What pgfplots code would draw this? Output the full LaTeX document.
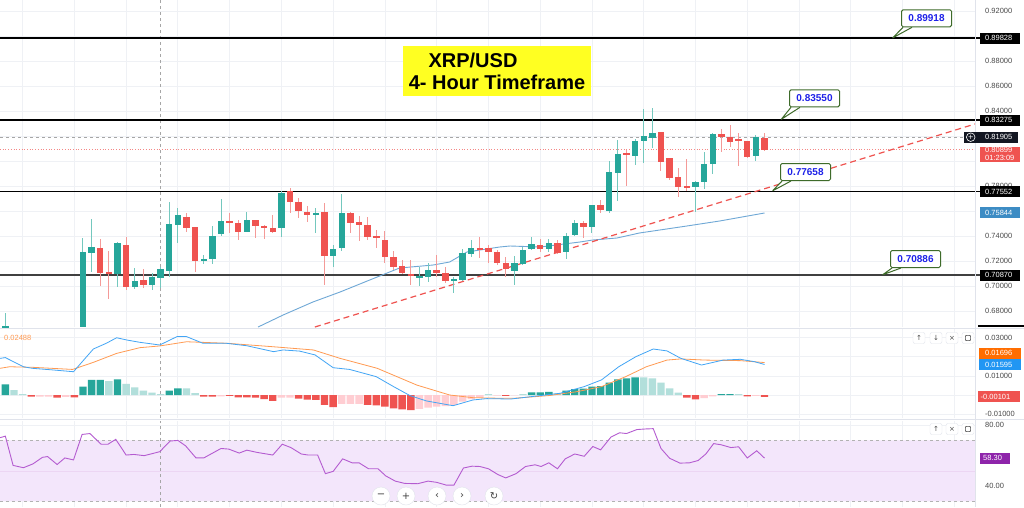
\documentclass[border=0pt]{standalone}
\usepackage{pgfplots}
\pgfplotsset{compat=1.18}
\usepackage{pgfplotstable}
\usepackage{fontspec}
\setmainfont{Liberation Sans}
\newfontfamily\djv{DejaVu Sans}

\definecolor{cgreen}{HTML}{26A69A}
\definecolor{cred}{HTML}{EF5350}
\definecolor{wgreen}{HTML}{74C8BE}
\definecolor{wred}{HTML}{F49A98}
\definecolor{hlg}{HTML}{B2DFDB}
\definecolor{hpk}{HTML}{FFCDD2}
\definecolor{macdc}{HTML}{42A5F5}
\definecolor{sigc}{HTML}{FF9A52}
\definecolor{mac}{HTML}{6FA8D6}
\definecolor{rsic}{HTML}{B45BD0}
\definecolor{rsifill}{HTML}{F3E6FB}
\definecolor{gridc}{HTML}{EFF1F5}
\definecolor{sepc}{HTML}{E0E3EB}
\definecolor{tickc}{HTML}{4A4A4A}
\definecolor{calloutg}{HTML}{3E6B2A}
\definecolor{calloutb}{HTML}{1E22E8}
\definecolor{boxdark}{HTML}{131722}
\definecolor{boxblue}{HTML}{3D8CC4}
\definecolor{boxorange}{HTML}{FF6D00}
\definecolor{boxmacd}{HTML}{2196F3}
\definecolor{boxrsi}{HTML}{8E24AA}
\definecolor{titley}{HTML}{FFFF22}

% candles: index, open, high, low, close
\pgfplotstableread{
i o h l c
-8 0.6672 0.6784 0.6672 0.6674
1 0.6672 0.7384 0.6672 0.7272
2 0.7264 0.7536 0.7112 0.7312
5 0.7096 0.7352 0.6992 0.7344
7 0.6992 0.7144 0.6976 0.7040
9 0.7008 0.7104 0.6968 0.7072
10 0.7064 0.7152 0.6984 0.7136
11 0.7120 0.7672 0.7072 0.7496
12 0.7488 0.7624 0.7344 0.7568
15 0.7200 0.7248 0.7176 0.7216
16 0.7216 0.7480 0.7176 0.7400
17 0.7416 0.7696 0.7400 0.7520
20 0.7432 0.7592 0.7432 0.7528
24 0.7464 0.7760 0.7392 0.7744
28 0.7568 0.7624 0.7424 0.7584
30 0.7240 0.7328 0.7152 0.7296
31 0.7304 0.7736 0.7280 0.7584
40 0.7072 0.7152 0.7000 0.7080
41 0.7072 0.7184 0.7032 0.7128
44 0.7040 0.7072 0.6944 0.7056
45 0.7048 0.7296 0.7040 0.7264
46 0.7256 0.7368 0.7232 0.7304
51 0.7120 0.7240 0.7008 0.7184
52 0.7176 0.7312 0.7168 0.7288
53 0.7296 0.7392 0.7288 0.7336
55 0.7296 0.7376 0.7272 0.7344
57 0.7272 0.7424 0.7216 0.7400
58 0.7408 0.7528 0.7400 0.7504
60 0.7472 0.7648 0.7424 0.7648
62 0.7600 0.8000 0.7584 0.7912
63 0.7904 0.8168 0.7680 0.8056
65 0.8040 0.8176 0.7968 0.8160
66 0.8160 0.8416 0.7984 0.8200
67 0.8184 0.8424 0.8104 0.8224
72 0.7792 0.7840 0.7592 0.7832
73 0.7832 0.8072 0.7776 0.7976
74 0.7976 0.8224 0.7896 0.8216
79 0.8040 0.8208 0.8000 0.8192
}\greenc

\pgfplotstableread{
i o h l c
3 0.7304 0.7376 0.7000 0.7104
4 0.7112 0.7280 0.6896 0.7104
6 0.7328 0.7392 0.6968 0.6992
8 0.7048 0.7136 0.6984 0.7008
13 0.7552 0.7584 0.7432 0.7464
14 0.7472 0.7472 0.7112 0.7200
18 0.7520 0.7584 0.7424 0.7504
19 0.7504 0.7528 0.7368 0.7432
21 0.7528 0.7528 0.7384 0.7480
22 0.7480 0.7488 0.7376 0.7464
23 0.7464 0.7568 0.7424 0.7432
25 0.7760 0.7784 0.7584 0.7672
26 0.7672 0.7704 0.7544 0.7600
27 0.7592 0.7640 0.7512 0.7568
29 0.7592 0.7664 0.7008 0.7240
32 0.7584 0.7592 0.7424 0.7504
33 0.7512 0.7560 0.7360 0.7488
34 0.7488 0.7552 0.7368 0.7392
35 0.7400 0.7448 0.7304 0.7384
36 0.7368 0.7440 0.7184 0.7232
37 0.7232 0.7280 0.7128 0.7152
38 0.7160 0.7208 0.7096 0.7104
39 0.7096 0.7208 0.7008 0.7080
42 0.7128 0.7248 0.7072 0.7104
43 0.7104 0.7152 0.7024 0.7040
47 0.7304 0.7392 0.7224 0.7296
48 0.7304 0.7328 0.7184 0.7272
49 0.7272 0.7288 0.7168 0.7184
50 0.7184 0.7232 0.7072 0.7136
54 0.7328 0.7376 0.7272 0.7296
56 0.7344 0.7368 0.7256 0.7264
59 0.7504 0.7520 0.7384 0.7472
61 0.7648 0.7688 0.7584 0.7608
64 0.8064 0.8088 0.7800 0.8048
68 0.8232 0.8232 0.7920 0.7992
69 0.8024 0.8024 0.7848 0.7864
70 0.7872 0.7944 0.7712 0.7792
71 0.7800 0.8016 0.7760 0.7792
75 0.8216 0.8256 0.8072 0.8192
76 0.8192 0.8288 0.8112 0.8152
77 0.8176 0.8224 0.7960 0.8168
78 0.8160 0.8160 0.8024 0.8032
80 0.8184 0.8224 0.8080 0.8090
}\redc

\pgfplotsset{
  panel/.style={
    scale only axis, width=975pt, xmin=-8.62, xmax=104.4,
    anchor=south west, clip=false,
    axis line style={draw=none}, major tick length=0pt,
    xtick={-6,0,...,102}, xticklabels={},
    scaled y ticks=false,
    xmajorgrids, ymajorgrids, grid style={draw=gridc, line width=0.8pt},
    yticklabel pos=right,
    yticklabel style={anchor=west, inner sep=0pt, xshift=10pt,
      font=\fontsize{7.5}{9}\selectfont, text=tickc},
  },
}
\tikzset{
  lbl/.style={anchor=west, minimum height=11pt, inner xsep=0pt,
    inner ysep=0pt, text=white, font=\fontsize{7.5}{9}\selectfont, align=left,
    minimum width=40pt, text width=40pt},
  callout/.style={draw=calloutg, line width=1pt, fill=white, rounded corners=1.5pt,
    text=calloutb, font=\bfseries\fontsize{10}{11}\selectfont, inner sep=0pt,
    minimum height=17pt, minimum width=50pt, anchor=south west},
  wedge/.style={fill=white, draw=calloutg, line width=1pt, line join=round},
  btn/.style={draw=sepc, fill=white, rounded corners=2pt, minimum width=12pt,
    minimum height=11pt, inner sep=0pt, font=\djv\fontsize{7}{8}\selectfont, text=tickc},
  nav/.style={circle, draw=sepc, fill=white, minimum size=18pt, inner sep=0pt,
    font=\djv\fontsize{10}{10}\selectfont, text=black!75},
}
\usetikzlibrary{calc}
% small "maximize" glyph drawn as a shape (no font has it)
\newcommand{\maxicon}[1]{%
  \draw[tickc, line width=0.6pt, rounded corners=0.8pt] ($(#1)+(-2.6,-2.6)$) rectangle ($(#1)+(2.6,2.6)$);}

\begin{document}
\begin{tikzpicture}[x=1pt,y=1pt]
\useasboundingbox (0,0) rectangle (1024,507);
\fill[white] (0,0) rectangle (1024,507);

% ================= PRICE PANEL =================
\begin{axis}[panel, at={(0pt,180pt)}, height=327pt, ymin=0.6672, ymax=0.9288,
  ytick={0.68,0.70,0.72,0.74,0.76,0.78,0.80,0.82,0.84,0.86,0.88,0.90,0.92},
  yticklabels={0.68000,0.70000,0.72000,0.74000,,0.78000,,,0.84000,0.86000,0.88000,,0.92000}]
  \addplot [gray!70, dashed, line width=0.6pt] coordinates {(10,0.6672) (10,0.9288)};
  \addplot [gray!70, dashed, line width=0.6pt] coordinates {(-8.62,0.81905) (104.4,0.81905)};
  \addplot [cred!70, dotted, line width=0.7pt] coordinates {(-8.62,0.80899) (104.4,0.80899)};
  \addplot [black, line width=1.3pt] coordinates {(-8.62,0.89828) (105.3,0.89828)};
  \addplot [black, line width=1.3pt] coordinates {(-8.62,0.83275) (105.3,0.83275)};
  \addplot [black, line width=1.3pt] coordinates {(-8.62,0.77552) (105.3,0.77552)};
  \addplot [black!75, line width=1.5pt] coordinates {(-8.62,0.70870) (105.3,0.70870)};
  \addplot [mac, line width=0.9pt] coordinates {
    (21.3,0.6672) (24.2,0.6768) (27.65,0.6872) (30.8,0.6952) (35.1,0.7072)
    (37.7,0.7144) (41.6,0.7168) (43.5,0.7192) (45.5,0.7272) (49.3,0.7312)
    (50.5,0.7320) (54.0,0.7312) (58.6,0.7352) (60.1,0.7368) (62.9,0.7384)
    (65.5,0.7424) (71.0,0.7480) (74.8,0.7520) (80,0.7584)};
  \addplot [cred, dashed, dash pattern=on 6pt off 4pt, line width=1.2pt]
    coordinates {(27.88,0.6672) (104.4,0.8296)};
  \addplot [mark=none, draw=none, error bars/.cd, y dir=both, y explicit, error mark=none,
    error bar style={draw=wgreen, line width=1pt}]
    table [x=i, y expr={(\thisrow{h}+\thisrow{l})/2}, y error expr={(\thisrow{h}-\thisrow{l})/2}] {\greenc};
  \addplot [mark=none, draw=none, error bars/.cd, y dir=both, y explicit, error mark=none,
    error bar style={draw=wred, line width=1pt}]
    table [x=i, y expr={(\thisrow{h}+\thisrow{l})/2}, y error expr={(\thisrow{h}-\thisrow{l})/2}] {\redc};
  \addplot [mark=none, draw=none, error bars/.cd, y dir=both, y explicit, error mark=none,
    error bar style={draw=cgreen, line width=6.4pt}]
    table [x=i, y expr={(\thisrow{o}+\thisrow{c})/2}, y error expr={max(abs(\thisrow{c}-\thisrow{o})/2,0.0005)}] {\greenc};
  \addplot [mark=none, draw=none, error bars/.cd, y dir=both, y explicit, error mark=none,
    error bar style={draw=cred, line width=6.4pt}]
    table [x=i, y expr={(\thisrow{o}+\thisrow{c})/2}, y error expr={max(abs(\thisrow{c}-\thisrow{o})/2,0.0005)}] {\redc};
  \coordinate (pA) at (axis cs:104.4,0.89828);
  \coordinate (pB) at (axis cs:104.4,0.83275);
  \coordinate (pC) at (axis cs:104.4,0.81905);
  \coordinate (pD) at (axis cs:104.4,0.80899);
  \coordinate (pE) at (axis cs:104.4,0.77552);
  \coordinate (pF) at (axis cs:104.4,0.75844);
  \coordinate (pG) at (axis cs:104.4,0.70870);
  \coordinate (tA) at (axis cs:94.86,0.8985);
  \coordinate (tB) at (axis cs:81.95,0.8334);
  \coordinate (tC) at (axis cs:80.95,0.7762);
  \coordinate (tD) at (axis cs:93.7,0.7090);
\end{axis}

% ================= MACD PANEL =================
\begin{axis}[panel, at={(0pt,89pt)}, height=89pt, ymin=-0.01205, ymax=0.03458,
  ytick={-0.01,0,0.01,0.02,0.03},
  yticklabels={-0.01000,,0.01000,,0.03000}]
  \addplot [gray!70, dashed, line width=0.6pt] coordinates {(10,-0.01205) (10,0.03458)};
  \addplot [ybar, bar width=7.4pt, bar shift=0pt, fill=cgreen, draw=none] coordinates {
    (-8,0.0056) (1,0.0044) (2,0.0079) (3,0.0079) (5,0.0082) (11,0.0023) (12,0.0035)
    (53,0.0014) (54,0.0014) (55,0.0017) (57,0.0023) (58,0.0031) (59,0.0033) (60,0.0044)
    (61,0.0046) (62,0.0065) (63,0.0082) (64,0.0087) (65,0.0093) (75,0.0005) (76,0.0005)};
  \addplot [ybar, bar width=7.4pt, bar shift=0pt, fill=hlg, draw=none] coordinates {
    (-7,0.0026) (-6,0.0005) (4,0.0073) (6,0.0058) (7,0.0040) (8,0.0023) (9,0.0012)
    (10,0.0005) (13,0.0035) (14,0.0010) (48,0.0005) (52,0.0005) (56,0.0009)
    (66,0.0092) (67,0.0087) (68,0.0065) (69,0.0035) (70,0.0012) (77,0.0004)};
  \addplot [ybar, bar width=7.4pt, bar shift=0pt, fill=cred, draw=none] coordinates {
    (-5,-0.0009) (-2,-0.0014) (0,-0.0012) (15,-0.0009) (16,-0.0009) (18,-0.0005)
    (19,-0.0012) (20,-0.0012) (21,-0.0014) (22,-0.0021) (23,-0.0031) (26,-0.0019)
    (27,-0.0024) (28,-0.0026) (29,-0.0052) (30,-0.0063) (34,-0.0052) (35,-0.0054)
    (36,-0.0061) (37,-0.0070) (38,-0.0075) (39,-0.0079) (50,-0.0005) (71,-0.0014)
    (72,-0.0023) (78,-0.0007) (80,-0.0010)};
  \addplot [ybar, bar width=7.4pt, bar shift=0pt, fill=hpk, draw=none] coordinates {
    (-4,-0.0009) (-3,-0.0009) (-1,-0.0010) (17,-0.0007) (24,-0.0014) (25,-0.0014)
    (31,-0.0047) (32,-0.0047) (33,-0.0047) (40,-0.0073) (41,-0.0066) (42,-0.0061)
    (43,-0.0058) (44,-0.0052) (45,-0.0035) (46,-0.0021) (47,-0.0012) (49,-0.0003)
    (51,-0.0002) (73,-0.0017) (74,-0.0007) (79,-0.0005)};
  \addplot [sigc, line width=0.8pt] coordinates {
    (-8.6,0.0140) (-7.5,0.0148) (-4.8,0.0145) (-0.2,0.0134) (2.2,0.0171) (4.9,0.0218)
    (7.6,0.0248) (9.9,0.0257) (13.0,0.0279) (17.7,0.0271) (23.0,0.0253) (27.7,0.0236)
    (30.8,0.0192) (35.1,0.0140) (39.7,0.0052) (43.5,0.0000) (46.2,-0.0014) (49.3,-0.0017)
    (51.0,-0.0017) (55.0,-0.0003) (58.2,0.0017) (61.1,0.0044) (63.9,0.0096) (66.3,0.0148)
    (68.7,0.0183) (70.3,0.0189) (73.1,0.0183) (77.2,0.0180) (80,0.0170)};
  \addplot [macdc, line width=0.8pt] coordinates {
    (-8.6,0.0192) (-8.0,0.0196) (-5.9,0.0148) (-4.9,0.0140) (-2.4,0.0131) (-0.1,0.0122)
    (2.2,0.0241) (3.7,0.0271) (4.9,0.0300) (6.1,0.0288) (7.6,0.0276) (9.9,0.0262)
    (11.9,0.0306) (13.0,0.0306) (14.9,0.0271) (17.6,0.0271) (20.0,0.0258) (23.1,0.0227)
    (24.2,0.0236) (26.1,0.0230) (27.9,0.0210) (30.0,0.0143) (31.9,0.0134) (35.0,0.0096)
    (37.0,0.0044) (38.9,-0.0003) (40.8,-0.0031) (43.9,-0.0056) (46.2,-0.0026) (47.8,-0.0019)
    (50.6,-0.0021) (56.3,0.0009) (59.1,0.0044) (61.1,0.0079) (63.1,0.0148) (65.1,0.0201)
    (67.1,0.0241) (68.7,0.0231) (70.3,0.0192) (72.7,0.0157) (75.2,0.0183) (77.2,0.0187)
    (78.8,0.0175) (80,0.0160)};
  \coordinate (mA) at (axis cs:104.4,0.0218);
  \coordinate (mB) at (axis cs:104.4,0.01595);
  \coordinate (mC) at (axis cs:104.4,-0.00101);
\end{axis}

% ================= RSI PANEL =================
\begin{axis}[panel, at={(0pt,0pt)}, height=86pt, ymin=26.23, ymax=82.62,
  ytick={40,60,80}, yticklabels={40.00,,80.00}]
  \addplot [draw=none, fill=rsifill] coordinates {(-8.62,30) (104.4,30) (104.4,70) (-8.62,70) (-8.62,30)};
  \addplot [gray!60, dashed, line width=0.6pt] coordinates {(-8.62,70) (104.4,70)};
  \addplot [gray!60, dashed, line width=0.6pt] coordinates {(-8.62,30) (104.4,30)};
  \addplot [rsic!25, line width=0.5pt] coordinates {(-8.62,50) (104.4,50)};
  \addplot [gray!70, dashed, line width=0.6pt] coordinates {(10,26.23) (10,82.62)};
  \addplot [rsic, line width=0.9pt] coordinates {
    (-8.6,71.7) (-8.0,72.7) (-7.1,53.5) (-5.9,52.0) (-4.8,54.5) (-3.7,58.8) (-3.1,59.3)
    (-2.0,54.1) (-1.1,58.4) (-0.1,57.1) (0.9,73.8) (1.8,74.4) (3.1,67.4) (3.9,67.4)
    (4.8,70.6) (6.0,60.3) (6.9,60.7) (8.1,59.9) (9.9,62.5) (11.1,69.5) (12.0,69.9)
    (12.9,66.3) (14.1,58.4) (15.0,58.4) (17.0,64.6) (17.9,64.2) (19.1,61.6) (20.0,63.5)
    (21.2,62.0) (23.0,60.3) (24.1,67.4) (25.1,65.2) (26.3,61.0) (27.1,60.3) (28.2,60.3)
    (29.1,48.1) (30.0,49.6) (31.1,57.8) (32.2,55.2) (33.0,55.2) (34.1,51.3) (35.2,51.3)
    (36.1,46.6) (37.2,43.2) (38.3,41.7) (39.8,41.5) (41.0,43.2) (42.0,42.4) (43.1,40.6)
    (44.0,40.6) (45.1,51.8) (46.1,53.0) (47.0,52.8) (48.0,51.3) (49.1,47.5) (50.0,45.3)
    (51.2,48.1) (52.3,52.8) (53.4,53.9) (54.1,52.8) (55.0,55.2) (56.0,51.3) (56.9,57.8)
    (58.0,61.0) (59.1,59.5) (60.1,65.9) (61.0,63.7) (62.2,72.1) (63.2,74.9) (64.0,74.4)
    (65.2,77.0) (66.2,77.4) (67.1,77.6) (68.0,64.6) (69.0,58.2) (70.2,55.0) (71.3,55.2)
    (72.3,56.7) (73.2,61.0) (74.1,67.8) (75.0,67.0) (76.1,65.2) (77.0,65.7) (78.0,58.4)
    (79.1,63.1) (80.0,58.3)};
  \coordinate (rA) at (axis cs:104.4,58.3);
\end{axis}

% ================= separators =================
\draw[sepc, line width=1pt] (0,178.7) -- (1024,178.7);
\draw[sepc, line width=1pt] (0,87.5) -- (1024,87.5);
\draw[sepc, line width=0.8pt] (975.5,0) -- (975.5,507);
\fill[black] (978,180) rectangle (1024,182);

% ================= right-scale boxes =================
\foreach \c/\t in {pA/0.89828, pB/0.83275, pE/0.77552, pG/0.70870}{
  \node[lbl, fill=black, xshift=5pt] at (\c) {\hspace*{5pt}\t};
}
\node[lbl, fill=boxdark, minimum width=54pt, text width=54pt, xshift=-11pt] at (pC) {\hspace*{21pt}0.81905};
\draw[white, line width=0.6pt] ($(pC)+(-4.3,0)$) circle (4.3pt);
\node[font=\djv\fontsize{7}{7}\selectfont, text=white, inner sep=0pt] at ($(pC)+(-4.3,0)$) {+};
\node[lbl, fill=cred, xshift=5pt, yshift=-4.5pt, inner ysep=1pt] at (pD) {\hspace*{5pt}0.80899\\[-1pt]\hspace*{5pt}01:23:09};
\node[lbl, fill=boxblue, xshift=5pt] at (pF) {\hspace*{5pt}0.75844};
\node[lbl, fill=boxorange, minimum width=42pt, text width=42pt, xshift=4pt] at (mA) {\hspace*{6pt}0.01696};
\node[lbl, fill=boxmacd, minimum width=42pt, text width=42pt, xshift=4pt] at (mB) {\hspace*{6pt}0.01595};
\node[lbl, fill=cred, minimum width=42pt, text width=42pt, xshift=3pt] at (mC) {\hspace*{2.5pt}-0.00101};
\node[lbl, fill=boxrsi, minimum width=30pt, text width=30pt, xshift=5pt] at (rA) {\hspace*{3pt}58.30};

\node[anchor=west, inner sep=0pt, text=sigc, font=\fontsize{7.5}{9}\selectfont] at (4,169) {0.02488};

% ================= callouts =================
\filldraw[wedge] (903,479.7) -- (tA) -- (912,479.7);
\node[callout] at (901,479.7) {0.89918};
\filldraw[wedge] (791,399.7) -- (tB) -- (800,399.7);
\node[callout] at (789,399.7) {0.83550};
\filldraw[wedge] (782,326) -- (tC) -- (791,326);
\node[callout] at (780,326) {0.77658};
\filldraw[wedge] (892,239) -- (tD) -- (901,239);
\node[callout] at (890,239) {0.70886};

% ================= title =================
\node[fill=titley, minimum width=188pt, minimum height=50pt, inner sep=0pt, align=center,
  font=\bfseries\fontsize{20}{22}\selectfont] at (497,435.5) {XRP/USD\hspace*{48pt}\\4- Hour Timeframe};

% ================= buttons =================
\node[btn] at (919,169) {↑};
\node[btn] at (936,169) {↓};
\node[btn] at (952,169) {×};
\node[btn] (b1) at (968,169) {};
\maxicon{b1}
\node[btn] at (936,78) {↑};
\node[btn] at (952,78) {×};
\node[btn] (b2) at (968,78) {};
\maxicon{b2}
\node[nav] at (381,11) {−};
\node[nav] at (406,11) {+};
\node[nav] at (437,11) {‹};
\node[nav] at (462,11) {›};
\node[nav] at (494,11) {↻};
\end{tikzpicture}
\end{document}
